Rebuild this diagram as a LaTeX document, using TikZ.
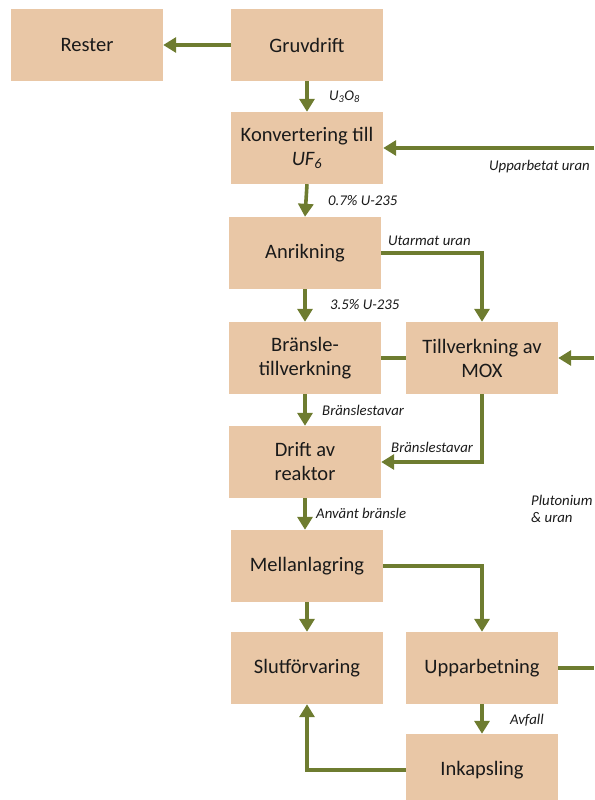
\documentclass[tikz,border=0pt]{standalone}
\usepackage{fontspec}
\setmainfont{Carlito}
\usetikzlibrary{arrows.meta}
\definecolor{boxfill}{HTML}{E9C7A6}
\definecolor{flow}{HTML}{6E7C30}
\definecolor{ink}{HTML}{1A1A1A}
\begin{document}
\begin{tikzpicture}[x=1pt,y=-1pt,
  stage/.style={fill=boxfill,draw=none,minimum width=152pt,minimum height=72pt,
    inner sep=0pt,align=center,text=ink,font=\fontsize{20.5}{24}\selectfont},
  flowline/.style={draw=flow,line width=3.6pt},
  flowarrow/.style={flowline,-{Triangle[width=15pt,length=13pt]}},
  note/.style={anchor=west,inner sep=0pt,text=ink,font=\fontsize{14.8}{17}\selectfont\itshape}]
\useasboundingbox (0,0) rectangle (594,800);

% process stages
\node[stage] (rester) at (87,45) {Rester};
\node[stage] (gruv)   at (307,45) {Gruvdrift};
\node[stage] (konv)   at (307,148) {Konvertering till\\{\itshape UF\textsubscript{6}}};
\node[stage] (anrik)  at (305,253) {Anrikning};
\node[stage] (bransle) at (305,358) {Bränsle-\\tillverkning};
\node[stage] (mox)    at (482,358) {Tillverkning av\\MOX};
\node[stage] (drift)  at (305,462) {Drift av\\reaktor};
\node[stage] (mellan) at (307,566) {Mellanlagring};
\node[stage] (slut)   at (307,668) {Slutförvaring};
\node[stage] (uppar)  at (482,668) {Upparbetning};
\node[stage] (inkap)  at (482,770) {Inkapsling};

% loose ends of the recycling loop
\coordinate (recU)   at (594,148);
\coordinate (recMOX) at (594,358);
\coordinate (recOut) at (594,668);

% flows
\draw[flowarrow] (gruv.west) -- (rester.east);
\draw[flowarrow] (gruv.south) -- (konv.north);
\draw[flowarrow] (recU) -- (konv.east);
\draw[flowarrow] (konv.south) -- (anrik.north);
\draw[flowarrow] (anrik.east) -- (482,253) -- (mox.north);
\draw[flowarrow] (anrik.south) -- (bransle.north);
\draw[flowline] (bransle.east) -- (mox.west);
\draw[flowarrow] (recMOX) -- (mox.east);
\draw[flowarrow] (bransle.south) -- (drift.north);
\draw[flowarrow] (mox.south) -- (482,462) -- (drift.east);
\draw[flowarrow] (drift.south) -- (drift.south |- mellan.north);
\draw[flowarrow] (mellan.east) -- (482,566) -- (uppar.north);
\draw[flowarrow] (mellan.south) -- (slut.north);
\draw[flowline] (uppar.east) -- (recOut);
\draw[flowarrow] (uppar.south) -- (inkap.north);
\draw[flowarrow] (inkap.west) -- (307,770) -- (slut.south);

% flow labels
\node[note] (lU3O8) at (329,97) {U\textsubscript{3}O\textsubscript{8}};
\node[note] (lUpp)  at (489,167) {Upparbetat uran};
\node[note] (l07)   at (328,201) {0.7\% U-235};
\node[note] (lUtar) at (388,241) {Utarmat uran};
\node[note] (l35)   at (330,305) {3.5\% U-235};
\node[note] (lBr1)  at (322,410) {Bränslestavar};
\node[note] (lBr2)  at (391,447) {Bränslestavar};
\node[note] (lAnv)  at (316,513) {Använt bränsle};
\node[note,align=left,anchor=north west] (lPu) at (531,495) {Plutonium\\\& uran};
\node[note] (lAvf)  at (510,720) {Avfall};
\end{tikzpicture}
\end{document}
